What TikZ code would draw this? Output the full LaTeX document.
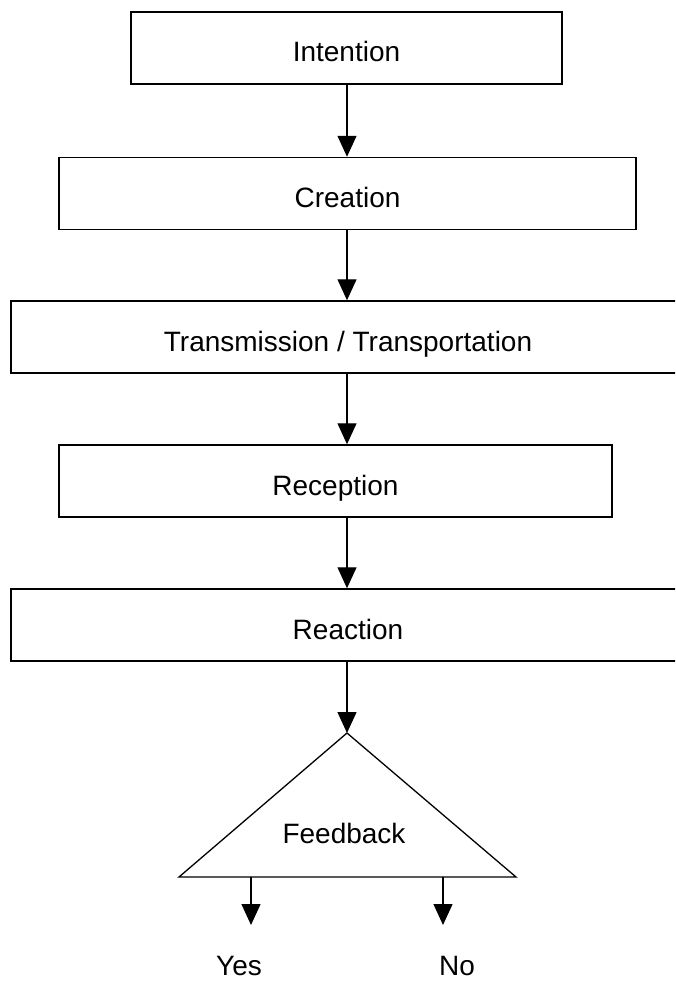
\documentclass[tikz,border=0pt]{standalone}
\usepackage{fontspec}
\setmainfont{Liberation Sans}
\usetikzlibrary{arrows.meta}

\begin{document}
\begin{tikzpicture}[x=1pt,y=-1pt,
  stage/.style={draw=black, line width=1.5pt, rectangle, inner sep=0pt,
    minimum height=72pt, text height=28pt, text depth=0pt,
    font=\fontsize{28}{32}\selectfont},
  flow/.style={draw=black, line width=1.3pt,
    -{Triangle[length=21pt,width=19pt]}},
  label/.style={inner sep=0pt, anchor=base, font=\fontsize{28}{32}\selectfont}]

  \path[use as bounding box, clip] (0,0) rectangle (675,982);

  % process stages (the wide ones run past the right margin)
  \node[stage, minimum width=431pt] (intention) at (346.5,48)  {Intention};
  \node[stage, minimum width=577pt] (creation)  at (347.5,193.5) {Creation};
  \node[stage, minimum width=674pt] (transmission) at (348,337) {Transmission / Transportation};
  \node[stage, minimum width=553pt] (reception) at (335.5,481) {Reception};
  \node[stage, minimum width=674pt] (reaction)  at (348,625) {Reaction};

  % feedback triangle
  \coordinate (apex) at (347,733);
  \coordinate (bl) at (179,877);
  \coordinate (br) at (516,877);
  \draw[line width=1.3pt, line join=miter] (apex) -- (br) -- (bl) -- cycle;
  \node[label] (feedback) at (344,843) {Feedback};

  % yes / no outcomes
  \coordinate (yesfrom) at (251,877);
  \coordinate (yesto)   at (251,925);
  \coordinate (nofrom)  at (443,877);
  \coordinate (noto)    at (443,925);
  \node[label] (yes) at (239,975) {Yes};
  \node[label] (no)  at (457,975) {No};

  % connectors
  \draw[flow] (intention.south -| apex) -- (creation.north -| apex);
  \draw[flow] (creation.south -| apex) -- (transmission.north -| apex);
  \draw[flow] (transmission.south -| apex) -- (reception.north -| apex);
  \draw[flow] (reception.south -| apex) -- (reaction.north -| apex);
  \draw[flow] (reaction.south -| apex) -- (apex);
  \draw[flow] (yesfrom) -- (yesto);
  \draw[flow] (nofrom) -- (noto);
\end{tikzpicture}
\end{document}
